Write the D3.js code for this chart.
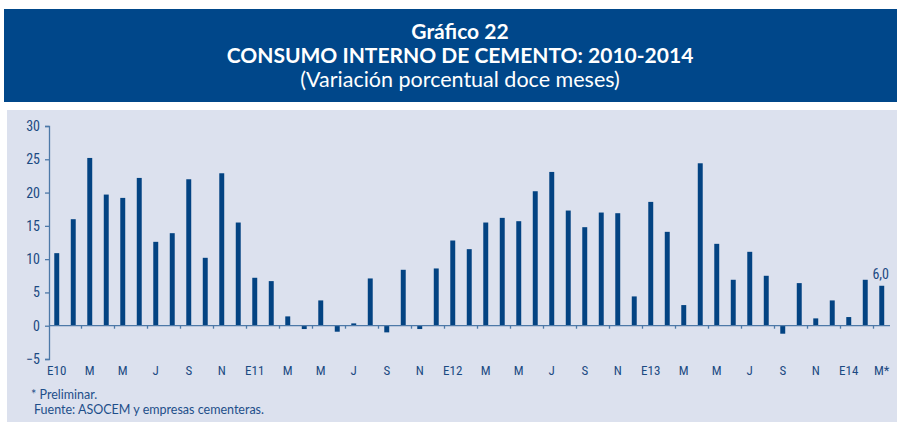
<!DOCTYPE html>
<html>
<head>
<meta charset="utf-8">
<script src="https://cdn.jsdelivr.net/npm/d3@7"></script>
<style>
  body { margin: 0; background: #ffffff; }
  .cond { font-family: "Liberation Sans Narrow", "Roboto Condensed", "Arial Narrow", sans-serif; }
</style>
</head>
<body>
<script>
const width = 901, height = 422;

// data: 12-month % change, Jan 2010 - Mar 2014
const months = [
  "Ene10","Feb10","Mar10","Abr10","May10","Jun10","Jul10","Ago10","Set10","Oct10","Nov10","Dic10",
  "Ene11","Feb11","Mar11","Abr11","May11","Jun11","Jul11","Ago11","Set11","Oct11","Nov11","Dic11",
  "Ene12","Feb12","Mar12","Abr12","May12","Jun12","Jul12","Ago12","Set12","Oct12","Nov12","Dic12",
  "Ene13","Feb13","Mar13","Abr13","May13","Jun13","Jul13","Ago13","Set13","Oct13","Nov13","Dic13",
  "Ene14","Feb14","Mar14"
];
const values = [
  10.9, 16.0, 25.2, 19.7, 19.2, 22.2, 12.6, 13.9, 22.0, 10.2, 22.9, 15.5,
  7.2, 6.7, 1.4, -0.5, 3.8, -0.9, 0.35, 7.1, -1.0, 8.4, -0.5, 8.6,
  12.8, 11.5, 15.5, 16.2, 15.7, 20.2, 23.1, 17.3, 14.8, 17.0, 16.9, 4.4,
  18.6, 14.1, 3.1, 24.4, 12.3, 6.9, 11.1, 7.5, -1.2, 6.4, 1.1, 3.8,
  1.3, 6.9, 6.0
];
// labels shown every two months
const tickLabels = [
  "E10","M","M","J","S","N",
  "E11","M","M","J","S","N",
  "E12","M","M","J","S","N",
  "E13","M","M","J","S","N",
  "E14","M*"
];
const yTicks = [-5, 0, 5, 10, 15, 20, 25, 30];
const lastLabel = "6,0";

const navy = "#00478a", barColor = "#034382", axisColor = "#4d79a8", textColor = "#1b4a82";

const svg = d3.select("body").append("svg").attr("width", width).attr("height", height);

// header
svg.append("rect").attr("x", 4).attr("y", 9).attr("width", 893).attr("height", 93).attr("fill", navy);
svg.append("rect").attr("x", 7).attr("y", 110).attr("width", 890).attr("height", 312).attr("fill", "#dce1ee");

const title = svg.append("g").attr("fill", "#ffffff").attr("text-anchor", "middle")
  .attr("font-family", "Lato, 'Open Sans', sans-serif");
title.append("text").attr("x", 460).attr("y", 39).attr("font-size", 21).attr("font-weight", "bold").text("Gráfico 22");
title.append("text").attr("x", 460).attr("y", 63).attr("font-size", 21).attr("font-weight", "bold")
  .text("CONSUMO INTERNO DE CEMENTO: 2010-2014");
title.append("text").attr("x", 460).attr("y", 87).attr("font-size", 21.5)
  .text("(Variación porcentual doce meses)");

// scales
const x = d3.scaleBand().domain(months).range([48.5, 890]).paddingInner(0.7).paddingOuter(0.35);
const y = d3.scaleLinear().domain([-5, 30]).range([359, 126]);

// bars
svg.selectAll("rect.bar")
  .data(values)
  .enter().append("rect")
  .attr("class", "bar")
  .attr("x", (d, i) => x(months[i]))
  .attr("width", x.bandwidth())
  .attr("y", d => y(Math.max(0, d)))
  .attr("height", d => Math.abs(y(d) - y(0)))
  .attr("fill", barColor);

// y axis
const yAxis = svg.append("g").attr("transform", "translate(49,0)")
  .call(d3.axisLeft(y).tickValues(yTicks).tickSize(4).tickPadding(5).tickFormat(d3.format("d")));
yAxis.select(".domain").attr("stroke", axisColor).attr("stroke-width", 1.3);
yAxis.selectAll(".tick line").attr("stroke", axisColor).attr("stroke-width", 1.3);
yAxis.selectAll("text").attr("class", "cond").attr("font-size", 14).attr("fill", textColor);

// x axis along zero
const step = x.step();
const labelled = months.filter((m, i) => i % 2 === 0);
svg.append("line").attr("x1", 49).attr("x2", 890).attr("y1", y(0)).attr("y2", y(0))
  .attr("stroke", axisColor).attr("stroke-width", 1.3);
svg.selectAll("line.xtick")
  .data(labelled.slice(1))
  .enter().append("line")
  .attr("class", "xtick")
  .attr("x1", m => x(m) - x.paddingInner() * step / 2)
  .attr("x2", m => x(m) - x.paddingInner() * step / 2)
  .attr("y1", y(0)).attr("y2", y(0) + 3)
  .attr("stroke", axisColor).attr("stroke-width", 1.3);
svg.selectAll("text.xlab")
  .data(labelled)
  .enter().append("text")
  .attr("class", "xlab cond")
  .attr("x", m => x(m) + x.bandwidth() / 2)
  .attr("y", 375)
  .attr("text-anchor", "middle")
  .attr("font-size", 13)
  .attr("fill", textColor)
  .text((m, i) => tickLabels[i]);

// value label on last bar
const lastM = months[months.length - 1];
svg.append("text").attr("class", "cond")
  .attr("x", x(lastM) + x.bandwidth() / 2 - 1)
  .attr("y", y(values[values.length - 1]) - 7)
  .attr("text-anchor", "middle").attr("font-size", 14).attr("fill", textColor)
  .text(lastLabel);

// notes
const notes = svg.append("g").attr("font-family", "Lato, 'Open Sans', sans-serif").attr("font-size", 12.5).attr("fill", "#1e4f8a");
notes.append("text").attr("x", 31).attr("y", 399).text("* Preliminar.");
notes.append("text").attr("x", 34).attr("y", 414).text("Fuente: ASOCEM y empresas cementeras.");
</script>
</body>
</html>
